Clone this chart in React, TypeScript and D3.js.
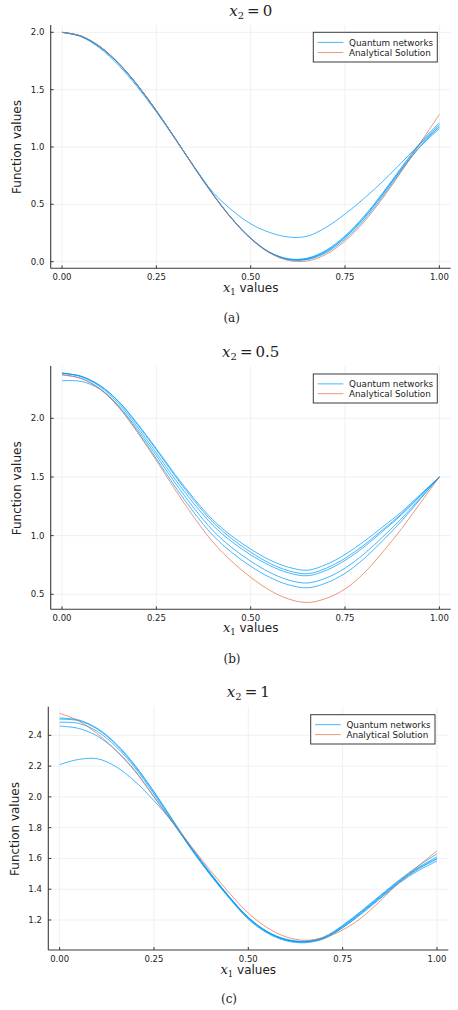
import React from 'react';
import * as d3 from 'd3';

// ---------------- data ----------------
const X1 = [0, 0.05, 0.1, 0.15, 0.2, 0.25, 0.3, 0.35, 0.4, 0.45, 0.5, 0.55, 0.6, 0.65, 0.7, 0.75, 0.8, 0.85, 0.9, 0.95, 1.0];
const xTicks = [0, 0.25, 0.5, 0.75, 1];
const xTickLabels = ['0.00', '0.25', '0.50', '0.75', '1.00'];

// panel (a): x2 = 0
const aExact = [2.000, 1.969, 1.878, 1.732, 1.540, 1.315, 1.071, 0.822, 0.584, 0.372, 0.199, 0.076, 0.010, 0.006, 0.064, 0.180, 0.346, 0.554, 0.789, 1.038, 1.284];
const aNet1 = [2.000, 1.968, 1.876, 1.730, 1.540, 1.317, 1.075, 0.826, 0.588, 0.376, 0.203, 0.080, 0.022, 0.030, 0.100, 0.225, 0.395, 0.600, 0.825, 1.040, 1.210];
const aNet2 = [2.000, 1.967, 1.874, 1.728, 1.538, 1.316, 1.074, 0.825, 0.586, 0.374, 0.201, 0.079, 0.018, 0.022, 0.088, 0.210, 0.378, 0.585, 0.812, 1.030, 1.195];
const aNet3 = [2.000, 1.966, 1.872, 1.726, 1.537, 1.316, 1.074, 0.826, 0.589, 0.378, 0.206, 0.083, 0.020, 0.018, 0.078, 0.196, 0.362, 0.568, 0.796, 1.010, 1.180];
const aNet4 = [2.000, 1.968, 1.875, 1.729, 1.539, 1.316, 1.073, 0.824, 0.587, 0.376, 0.204, 0.082, 0.025, 0.028, 0.092, 0.215, 0.385, 0.590, 0.808, 1.005, 1.160];
const aNet5 = [2.000, 1.962, 1.862, 1.712, 1.522, 1.305, 1.068, 0.830, 0.605, 0.450, 0.330, 0.255, 0.215, 0.222, 0.300, 0.415, 0.550, 0.700, 0.865, 1.030, 1.175];
const aYTicks = [0, 0.5, 1, 1.5, 2];
const aYTickLabels = ['0.0', '0.5', '1.0', '1.5', '2.0'];

// panel (b): x2 = 0.5
const bExact = [2.370, 2.340, 2.250, 2.095, 1.880, 1.640, 1.390, 1.155, 0.945, 0.780, 0.645, 0.535, 0.460, 0.430, 0.465, 0.545, 0.680, 0.860, 1.060, 1.280, 1.500];
const bNet1 = [2.385, 2.359, 2.282, 2.145, 1.954, 1.741, 1.520, 1.315, 1.134, 0.996, 0.885, 0.793, 0.731, 0.705, 0.754, 0.839, 0.950, 1.075, 1.203, 1.352, 1.500];
const bNet2 = [2.385, 2.359, 2.280, 2.141, 1.947, 1.731, 1.507, 1.298, 1.114, 0.973, 0.859, 0.765, 0.701, 0.675, 0.722, 0.807, 0.920, 1.051, 1.187, 1.344, 1.500];
const bNet3 = [2.385, 2.356, 2.271, 2.126, 1.926, 1.705, 1.479, 1.270, 1.087, 0.948, 0.836, 0.746, 0.683, 0.658, 0.704, 0.789, 0.903, 1.038, 1.179, 1.339, 1.500];
const bNet4 = [2.320, 2.315, 2.250, 2.107, 1.905, 1.680, 1.448, 1.233, 1.043, 0.898, 0.782, 0.687, 0.622, 0.596, 0.639, 0.723, 0.843, 0.989, 1.146, 1.323, 1.500];
const bNet5 = [2.372, 2.342, 2.253, 2.099, 1.888, 1.655, 1.416, 1.195, 1.002, 0.856, 0.739, 0.645, 0.581, 0.555, 0.596, 0.679, 0.803, 0.958, 1.125, 1.313, 1.500];
const bYTicks = [0.5, 1, 1.5, 2];
const bYTickLabels = ['0.5', '1.0', '1.5', '2.0'];

// panel (c): x2 = 1
const cExact = [2.543, 2.495, 2.410, 2.300, 2.165, 2.000, 1.835, 1.675, 1.520, 1.375, 1.245, 1.150, 1.090, 1.068, 1.085, 1.135, 1.215, 1.325, 1.445, 1.550, 1.650];
const cNet1 = [2.512, 2.500, 2.445, 2.345, 2.205, 2.035, 1.850, 1.665, 1.500, 1.350, 1.215, 1.125, 1.075, 1.062, 1.090, 1.165, 1.260, 1.360, 1.460, 1.550, 1.630];
const cNet2 = [2.505, 2.495, 2.440, 2.338, 2.198, 2.028, 1.845, 1.660, 1.495, 1.345, 1.210, 1.120, 1.070, 1.058, 1.085, 1.160, 1.255, 1.355, 1.455, 1.540, 1.610];
const cNet3 = [2.485, 2.478, 2.425, 2.325, 2.188, 2.018, 1.838, 1.655, 1.490, 1.340, 1.205, 1.115, 1.065, 1.052, 1.078, 1.150, 1.245, 1.345, 1.445, 1.530, 1.596];
const cNet4 = [2.460, 2.445, 2.395, 2.300, 2.170, 2.000, 1.830, 1.660, 1.495, 1.345, 1.215, 1.122, 1.072, 1.060, 1.080, 1.150, 1.240, 1.340, 1.440, 1.520, 1.583];
const cNet5 = [2.210, 2.243, 2.248, 2.195, 2.100, 1.975, 1.835, 1.670, 1.505, 1.350, 1.218, 1.125, 1.072, 1.058, 1.085, 1.158, 1.250, 1.350, 1.450, 1.535, 1.600];
const cYTicks = [1.2, 1.4, 1.6, 1.8, 2.0, 2.2, 2.4];
const cYTickLabels = ['1.2', '1.4', '1.6', '1.8', '2.0', '2.2', '2.4'];

const legendLabels = ['Quantum networks', 'Analytical Solution'];

// ---------------- styling ----------------
const BLUE = '#009AFA';
const RED = '#E36F47';
const AXIS = '#3a3a3a';
const GRID = '#ececec';
const TXT = '#222';
const SANS = "'DejaVu Sans', Verdana, sans-serif";
const SERIF = "'DejaVu Serif', serif";

type Layout = {
  left: number; right: number; top: number; bottom: number;
  yDomain: [number, number];
  titleY: number; xlabY: number; tagY: number; tagX: number;
  ylabX: number; ylabY: number;
  legend: [number, number, number, number];
};

type PanelProps = {
  layout: Layout;
  nets: number[][];
  exact: number[];
  yTicks: number[];
  yTickLabels: string[];
  titleValue: string;
  tag: string;
};

function Panel({ layout, nets, exact, yTicks, yTickLabels, titleValue, tag }: PanelProps) {
  const { left, right, top, bottom, yDomain } = layout;
  const x = d3.scaleLinear().domain([-0.03, 1.03]).range([left, right]);
  const y = d3.scaleLinear().domain(yDomain).range([bottom, top]);
  const line = d3
    .line<number>()
    .x((_, i) => x(X1[i]))
    .y((d) => y(d))
    .curve(d3.curveCatmullRom.alpha(0.5));
  const cx = (left + right) / 2;
  const [lx0, ly0, lx1, ly1] = layout.legend;
  const row1 = ly0 + (ly1 - ly0) * 0.34;
  const row2 = ly0 + (ly1 - ly0) * 0.68;
  return (
    <g>
      {xTicks.map((t) => (
        <line key={'gx' + t} x1={x(t)} x2={x(t)} y1={top} y2={bottom} stroke={GRID} strokeWidth={0.8} />
      ))}
      {yTicks.map((t) => (
        <line key={'gy' + t} x1={left} x2={right} y1={y(t)} y2={y(t)} stroke={GRID} strokeWidth={0.8} />
      ))}
      {nets.map((s, i) => (
        <path key={'n' + i} d={line(s) || ''} fill="none" stroke={BLUE} strokeOpacity={0.72} strokeWidth={1} />
      ))}
      <path d={line(exact) || ''} fill="none" stroke={RED} strokeOpacity={0.72} strokeWidth={1} />
      <line x1={left} x2={right} y1={bottom} y2={bottom} stroke={AXIS} strokeWidth={1.1} />
      <line x1={left} x2={left} y1={top} y2={bottom} stroke={AXIS} strokeWidth={1.1} />
      {xTicks.map((t, i) => (
        <g key={'xt' + t}>
          <line x1={x(t)} x2={x(t)} y1={bottom} y2={bottom - 3} stroke={AXIS} strokeWidth={1} />
          <text x={x(t)} y={bottom + 12} textAnchor="middle" fontFamily={SANS} fontSize={8.5} fill={TXT}>
            {xTickLabels[i]}
          </text>
        </g>
      ))}
      {yTicks.map((t, i) => (
        <g key={'yt' + t}>
          <line x1={left} x2={left + 3} y1={y(t)} y2={y(t)} stroke={AXIS} strokeWidth={1} />
          <text x={left - 6.4} y={y(t) + 3} textAnchor="end" fontFamily={SANS} fontSize={8.5} fill={TXT}>
            {yTickLabels[i]}
          </text>
        </g>
      ))}
      <text x={cx} y={layout.titleY} textAnchor="middle" fontFamily={SERIF} fontSize={15} fill={TXT}>
        <tspan fontStyle="italic">x</tspan>
        <tspan fontSize={10} dy={3}>2</tspan>
        <tspan dy={-3} dx={3}>=</tspan>
        <tspan dx={3}>{titleValue}</tspan>
      </text>
      <text x={cx} y={layout.xlabY} textAnchor="middle" fontSize={12} fill={TXT}>
        <tspan fontFamily={SERIF} fontStyle="italic" fontSize={13}>x</tspan>
        <tspan fontFamily={SERIF} fontSize={8.5} dy={3}>1</tspan>
        <tspan fontFamily={SANS} dy={-3}>{' values'}</tspan>
      </text>
      <text
        transform={`translate(${layout.ylabX},${layout.ylabY}) rotate(-90)`}
        textAnchor="middle"
        dominantBaseline="central"
        fontFamily={SANS}
        fontSize={12}
        fill={TXT}
      >
        Function values
      </text>
      <rect x={lx0} y={ly0} width={lx1 - lx0} height={ly1 - ly0} fill="#fff" stroke={AXIS} strokeWidth={1} />
      <line x1={lx0 + 4.4} x2={lx0 + 30} y1={row1} y2={row1} stroke={BLUE} strokeWidth={1} strokeOpacity={0.72} />
      <line x1={lx0 + 4.4} x2={lx0 + 30} y1={row2} y2={row2} stroke={RED} strokeWidth={1} strokeOpacity={0.72} />
      <text x={lx0 + 35.7} y={row1 + 3.2} fontFamily={SANS} fontSize={8.8} fill={TXT}>{legendLabels[0]}</text>
      <text x={lx0 + 35.7} y={row2 + 3.2} fontFamily={SANS} fontSize={8.8} fill={TXT}>{legendLabels[1]}</text>
      <text x={layout.tagX} y={layout.tagY} textAnchor="middle" fontFamily={SERIF} fontSize={12} fill={TXT}>
        {tag}
      </text>
    </g>
  );
}

const layoutA: Layout = {
  left: 50.7, right: 450.7, top: 25, bottom: 268.3, yDomain: [-0.058, 2.064],
  titleY: 16, xlabY: 291.7, tagY: 321.5, tagX: 231.7, ylabX: 17.3, ylabY: 147,
  legend: [313.3, 32.3, 437.3, 62],
};
const layoutB: Layout = {
  left: 50.7, right: 450.7, top: 366, bottom: 609.3, yDomain: [0.372, 2.446],
  titleY: 356.7, xlabY: 632.3, tagY: 662.7, tagX: 232, ylabX: 17.3, ylabY: 488.3,
  legend: [313.3, 374, 437.3, 403],
};
const layoutC: Layout = {
  left: 48.3, right: 448.3, top: 706.7, bottom: 950, yDomain: [1.005, 2.586],
  titleY: 697.3, xlabY: 974, tagY: 1003.3, tagX: 229, ylabX: 14.7, ylabY: 829,
  legend: [310.7, 714.7, 435, 744],
};

export default function App() {
  return (
    <svg
      width={458}
      height={1010}
      viewBox="0 0 458 1010"
      style={{ position: 'absolute', left: 0, top: 0, background: '#fff' }}
    >
      <rect x={0} y={0} width={458} height={1010} fill="#fff" />
      <Panel layout={layoutA} nets={[aNet1, aNet2, aNet3, aNet4, aNet5]} exact={aExact}
        yTicks={aYTicks} yTickLabels={aYTickLabels} titleValue="0" tag="(a)" />
      <Panel layout={layoutB} nets={[bNet1, bNet2, bNet3, bNet4, bNet5]} exact={bExact}
        yTicks={bYTicks} yTickLabels={bYTickLabels} titleValue="0.5" tag="(b)" />
      <Panel layout={layoutC} nets={[cNet1, cNet2, cNet3, cNet4, cNet5]} exact={cExact}
        yTicks={cYTicks} yTickLabels={cYTickLabels} titleValue="1" tag="(c)" />
    </svg>
  );
}
